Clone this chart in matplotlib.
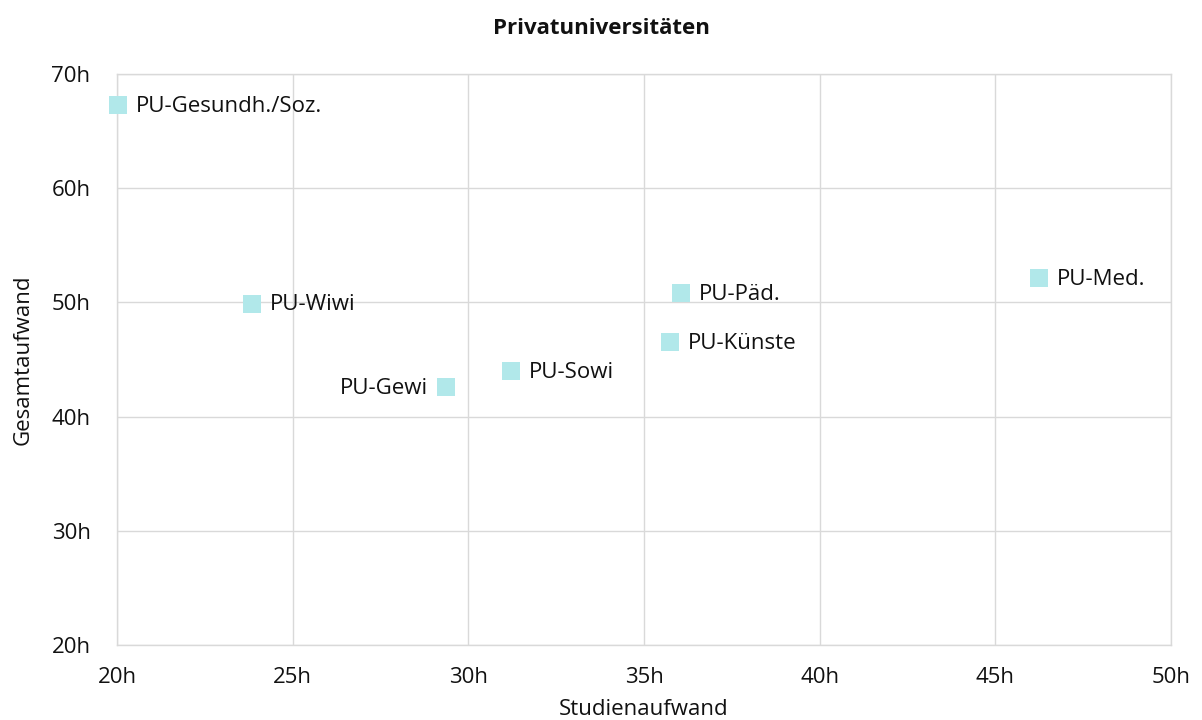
import matplotlib
matplotlib.use("Agg")
import matplotlib.pyplot as plt
from matplotlib.ticker import FuncFormatter

plt.rcParams['font.family'] = ['Open Sans', 'DejaVu Sans']

labels = ["PU-Gesundh./Soz.", "PU-Wiwi", "PU-Gewi", "PU-Sowi", "PU-Päd.", "PU-Künste", "PU-Med."]
studienaufwand = [20.03, 23.84, 29.37, 31.22, 36.05, 35.74, 46.25]
gesamtaufwand = [67.3, 49.9, 42.6, 43.95, 50.85, 46.5, 52.1]
label_side = ["right", "right", "left", "right", "right", "right", "right"]

FS = 16
fig = plt.figure(figsize=(12.02, 7.2), dpi=100)
ax = fig.add_axes([117/1202, 1 - 645/720, (1171-117)/1202, (645-74)/720])

ax.scatter(studienaufwand, gesamtaufwand, marker='s', s=150, color='#b1e8ea',
           zorder=3, linewidths=0, clip_on=False)

for x, y, lab, side in zip(studienaufwand, gesamtaufwand, labels, label_side):
    if side == "right":
        ax.annotate(lab, (x, y), xytext=(13, -1), textcoords='offset points',
                    ha='left', va='center', fontsize=FS, color='#111111')
    else:
        ax.annotate(lab, (x, y), xytext=(-13, -1), textcoords='offset points',
                    ha='right', va='center', fontsize=FS, color='#111111')

ax.set_xlim(20, 50)
ax.set_ylim(20, 70)
ax.set_xticks([20, 25, 30, 35, 40, 45, 50])
ax.set_yticks([20, 30, 40, 50, 60, 70])
fmt = FuncFormatter(lambda v, p: f"{int(v)}h")
ax.xaxis.set_major_formatter(fmt)
ax.yaxis.set_major_formatter(fmt)
ax.tick_params(axis='both', length=0, labelsize=FS, colors='#111111')
ax.tick_params(axis='x', pad=16)
ax.tick_params(axis='y', pad=19)
ax.grid(True, color='#d9d9d9', linewidth=1)
ax.set_axisbelow(True)
for sp in ax.spines.values():
    sp.set_color('#d9d9d9')
    sp.set_linewidth(1)

ax.set_xlabel("Studienaufwand", fontsize=FS, color='#111111', labelpad=8)
ax.set_ylabel("Gesamtaufwand", fontsize=FS, color='#111111', labelpad=13)
fig.text(0.5, 1 - 28/720, "Privatuniversitäten", ha='center', va='center',
         fontsize=FS, fontweight='bold', color='#111111')

fig.savefig("out.png", dpi=100)
